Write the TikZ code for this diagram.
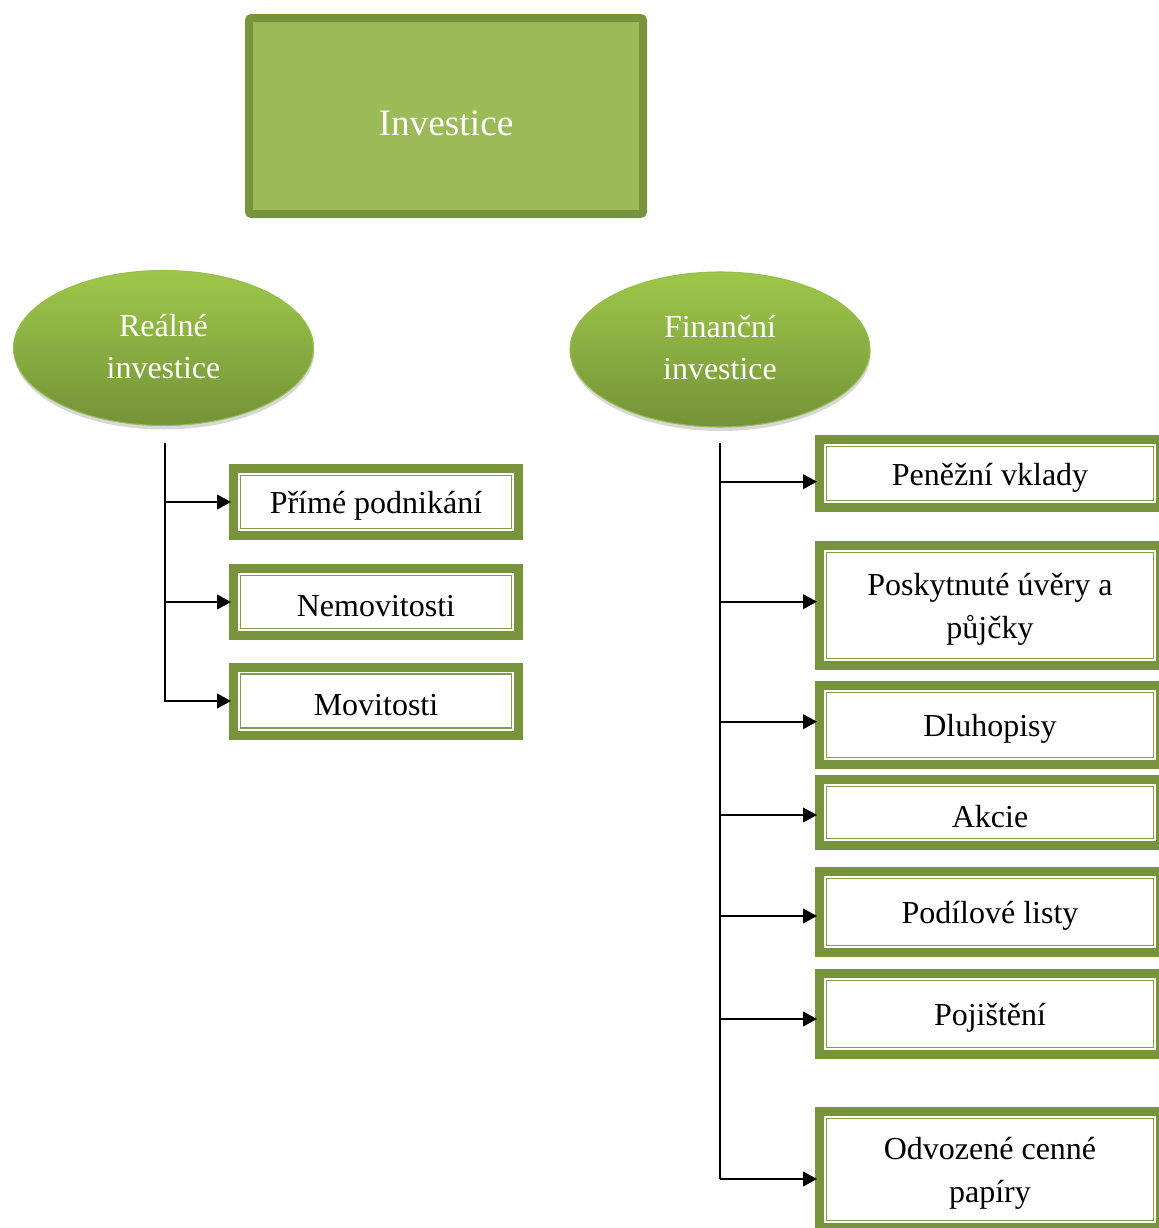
\documentclass[tikz,border=0pt]{standalone}
\usepackage{fontspec}
\setmainfont{Liberation Serif}
\usetikzlibrary{shapes.geometric,arrows.meta,shadows}
\definecolor{dkgreen}{RGB}{119,147,60}
\definecolor{midgreen}{RGB}{155,187,89}
\definecolor{thingreen}{RGB}{128,158,68}
\definecolor{elltop}{RGB}{158,200,74}
\definecolor{ellbot}{RGB}{116,146,56}
\definecolor{elledge}{RGB}{150,190,80}
\newcommand{\dn}[1]{\raisebox{-3pt}[\height][\depth]{#1}}
\newcommand{\dntwo}[2]{\raisebox{-2pt}[\height][\depth]{\begin{tabular}{@{}c@{}}#1\\#2\end{tabular}}}
\newcommand{\up}[1]{\raisebox{-0.75pt}[\height][\depth]{\begin{tabular}{@{}c@{}}#1\end{tabular}}}
\begin{document}
\begin{tikzpicture}[x=0.75pt,y=-0.75pt,
  topbox/.style={draw=dkgreen, line width=6pt, fill=midgreen, rounded corners=2pt,
    minimum width=295.5pt, minimum height=147pt, inner sep=0pt, text=white,
    font=\fontsize{28}{34}\selectfont,
    drop shadow={opacity=0.35, shadow xshift=0.5pt, shadow yshift=-2.5pt}},
  ell/.style={ellipse, minimum width=225pt, minimum height=116.25pt, inner sep=0pt,
    draw=elledge, line width=0.8pt, top color=elltop, bottom color=ellbot,
    text=white, align=center, font=\fontsize{24}{31.5}\selectfont,
    drop shadow={opacity=0.3, shadow xshift=0.5pt, shadow yshift=-3pt}},
  gbox/.style={draw=dkgreen, line width=6.75pt, outer sep=3.375pt, fill=white,
    inner sep=0pt, align=center, font=\fontsize{24}{32.25}\selectfont},
  lbox/.style={gbox, minimum width=213.75pt},
  rbox/.style={gbox, minimum width=255.75pt},
  innerline/.style={draw=thingreen, line width=1.4pt},
  trunk/.style={draw=black, line width=1.5pt},
  arr/.style={draw=black, line width=1.5pt, shorten >=-1.5pt,
    -{Triangle[length=10.5pt,width=11pt]}}
]
\clip (0,0) rectangle (1159,1228);
\fill[white] (0,0) rectangle (1159,1228);

% top box
\node[topbox] (inv) at (446,116) {\raisebox{-5.25pt}[\height][\depth]{Investice}};

% ellipses
\node[ell] (real) at (163.5,348) {\up{Reálné\\investice}};
\node[ell] (fin) at (720,349.5) {\up{Finanční\\investice}};

% left boxes
\node[lbox, minimum height=50.25pt] (prime) at (376,502) {\dn{Přímé podnikání}};
\node[lbox, minimum height=50.25pt] (nemo) at (376,602) {\dn{Nemovitosti}};
\node[lbox, minimum height=51pt] (movi) at (376,701) {\dn{Movitosti}};

% right boxes
\node[rbox, minimum height=51pt] (pen) at (990,473.5) {\dn{Peněžní vklady}};
\node[rbox, minimum height=90pt] (posk) at (990,605.5) {\dntwo{Poskytnuté úvěry a}{půjčky}};
\node[rbox, minimum height=59.25pt] (dluh) at (990,725) {\dn{Dluhopisy}};
\node[rbox, minimum height=49.5pt] (akcie) at (990,812.5) {\dn{Akcie}};
\node[rbox, minimum height=60.75pt] (podil) at (990,912) {\dn{Podílové listy}};
\node[rbox, minimum height=60.75pt] (poji) at (990,1014) {\dn{Pojištění}};
\node[rbox, minimum height=87pt] (odv) at (990,1169.5) {\dntwo{Odvozené cenné}{papíry}};

\foreach \n in {prime,nemo,movi,pen,posk,dluh,akcie,podil,poji,odv}
  \draw[innerline] ([shift={(11.5,11.5)}]\n.north west) rectangle ([shift={(-11.5,-11.5)}]\n.south east);

% left connectors
\coordinate (lt) at (164.5,443);
\draw[arr] (lt) |- (movi.west);
\draw[arr] (lt |- prime.west) -- (prime.west);
\draw[arr] (lt |- nemo.west) -- (nemo.west);

% right connectors
\coordinate (rt) at (719.5,443);
\coordinate (r1) at (719.5,481.7);
\coordinate (r2) at (719.5,601.7);
\coordinate (r3) at (719.5,721.7);
\coordinate (r4) at (719.5,815);
\coordinate (r5) at (719.5,916);
\coordinate (r6) at (719.5,1019);
\coordinate (r7) at (719.5,1179);
\draw[trunk] (rt) -- (r7);
\draw[arr] (r1) -- (r1 -| pen.west);
\draw[arr] (r2) -- (r2 -| posk.west);
\draw[arr] (r3) -- (r3 -| dluh.west);
\draw[arr] (r4) -- (r4 -| akcie.west);
\draw[arr] (r5) -- (r5 -| podil.west);
\draw[arr] (r6) -- (r6 -| poji.west);
\draw[arr] (r7) -- (r7 -| odv.west);
\end{tikzpicture}
\end{document}
